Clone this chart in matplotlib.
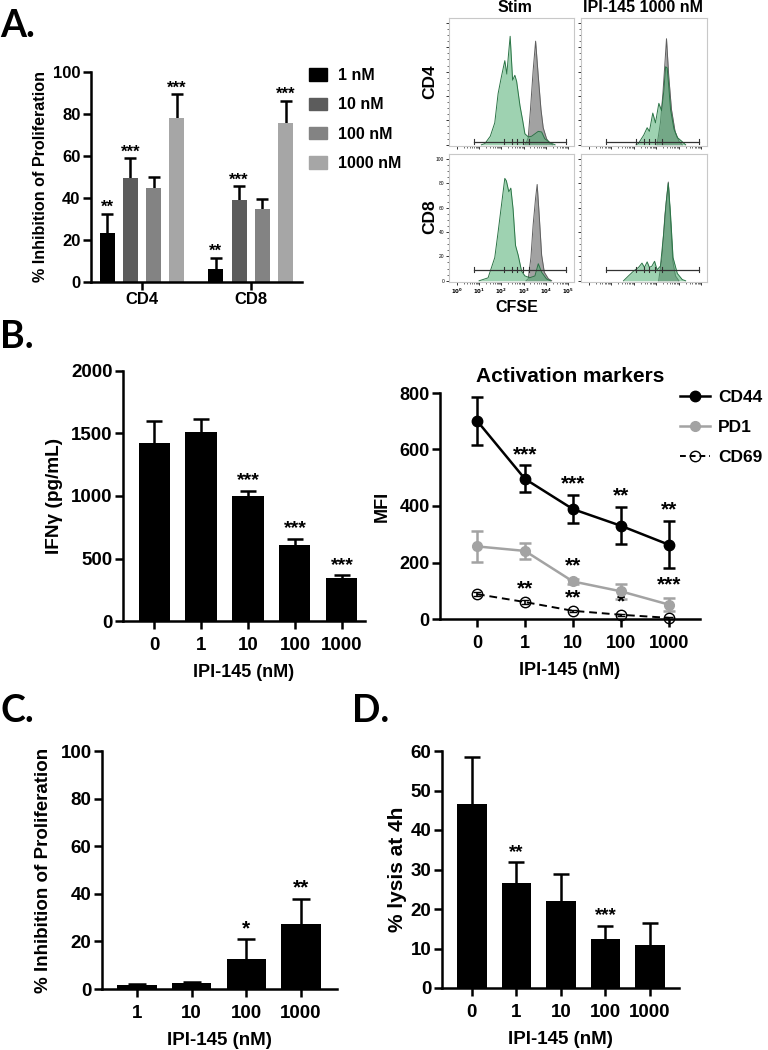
import numpy as np
import matplotlib
matplotlib.use("Agg")
import matplotlib.pyplot as plt
from matplotlib.lines import Line2D
from matplotlib.patches import Patch

plt.rcParams['font.family'] = ['Liberation Sans', 'DejaVu Sans']
plt.rcParams['font.weight'] = 'bold'
plt.rcParams['axes.labelweight'] = 'bold'

# ---------------- data ----------------
# Panel A
a_groups = ['CD4', 'CD8']
a_doses = ['1 nM', '10 nM', '100 nM', '1000 nM']
a_cd4_mean = [23.5, 49.3, 44.7, 78.1]
a_cd4_err = [9.1, 9.7, 5.1, 11.2]
a_cd8_mean = [6.2, 39.1, 34.6, 75.8]
a_cd8_err = [5.3, 6.5, 4.8, 10.5]
a_cd4_stars = ['**', '***', '', '***']
a_cd8_stars = ['**', '***', '', '***']

# Panel A histograms (log10 CFSE, % of max)
stim_cd4_green_x = [1.1, 1.26, 1.5, 1.7, 1.85, 2.0, 2.15, 2.24, 2.32, 2.39, 2.5, 2.6, 2.68, 2.83, 2.95, 3.05, 3.2, 3.35, 3.5, 3.65, 3.8, 3.94, 4.2, 4.4]
stim_cd4_green_y = [0, 1, 7, 18, 42, 56, 69, 58, 75, 89, 53, 57, 52, 32, 20, 9, 6.5, 7, 9, 11, 10.5, 5, 1.5, 0]
stim_cd4_grey_x = [3.05, 3.12, 3.2, 3.3, 3.42, 3.53, 3.65, 3.77, 3.87, 4.02, 4.17, 4.3]
stim_cd4_grey_y = [0, 2, 6, 29, 61, 85, 56, 29, 14, 5, 1, 0]
ipi_cd4_green_x = [2.1, 2.2, 2.44, 2.59, 2.69, 2.84, 2.96, 3.11, 3.23, 3.33, 3.41, 3.48, 3.55, 3.63, 3.78, 3.93, 4.12, 4.3]
ipi_cd4_green_y = [0, 1, 8, 14, 11, 26, 18, 34, 28, 44, 64, 63, 48, 29, 13, 6, 3, 0]
ipi_cd4_grey_x = [3.03, 3.18, 3.29, 3.38, 3.45, 3.55, 3.67, 3.83, 4.0, 4.15]
ipi_cd4_grey_y = [0, 18, 42, 67, 87, 56, 29, 11, 3, 0]
stim_cd8_green_x = [1.0, 1.4, 1.7, 1.85, 2.0, 2.15, 2.22, 2.33, 2.42, 2.52, 2.63, 2.75, 2.9, 3.05, 3.27, 3.5, 3.65, 3.8, 4.02, 4.2]
stim_cd8_green_y = [0, 2.4, 19, 40, 62, 84, 82, 73, 76, 59, 29, 21, 8, 4, 2.5, 4, 14, 7, 1.5, 0]
stim_cd8_grey_x = [3.1, 3.2, 3.32, 3.42, 3.53, 3.6, 3.69, 3.8, 3.92, 4.1, 4.25]
stim_cd8_grey_y = [0, 1.7, 19, 46, 68, 79, 54, 21, 7, 1.7, 0]
ipi_cd8_green_x = [1.54, 1.76, 1.99, 2.21, 2.36, 2.47, 2.59, 2.69, 2.8, 2.92, 3.03, 3.18, 3.33, 3.44, 3.53, 3.63, 3.74, 3.93, 4.15, 4.3]
ipi_cd8_green_y = [0, 4, 8, 11, 14.5, 11, 15.5, 11, 12, 16, 9, 12, 40, 65, 80, 54, 19, 6, 1, 0]
ipi_cd8_grey_x = [3.1, 3.25, 3.38, 3.53, 3.63, 3.73, 3.85, 4.0]
ipi_cd8_grey_y = [0, 19, 54, 81, 49, 16, 4, 0]
gate_divisions = [2.1, 2.47, 2.69, 2.96, 3.23]
gate_range = [0.75, 4.9]

# Panel B
b_doses = ['0', '1', '10', '100', '1000']
b_ifng_mean = [1420, 1512, 1003, 610, 342]
b_ifng_err = [183, 105, 38, 48, 24]
b_ifng_stars = ['', '', '***', '***', '***']
b_cd44_mean = [702, 496, 389, 330, 263]
b_cd44_err = [85, 48, 50, 66, 84]
b_cd44_stars = ['', '***', '***', '**', '**']
b_pd1_mean = [257, 241, 133, 98, 51]
b_pd1_err = [55, 29, 8, 27, 23]
b_pd1_stars = ['', '', '**', '', '***']
b_cd69_mean = [88, 60, 29, 15, 4]
b_cd69_err = [8, 6, 4, 4, 3]
b_cd69_stars = ['', '**', '**', '*', '']

# Panel C
c_doses = ['1', '10', '100', '1000']
c_mean = [1.5, 2.5, 12.5, 27.3]
c_err = [0.6, 0.6, 8.3, 10.4]
c_stars = ['', '', '*', '**']

# Panel D
d_doses = ['0', '1', '10', '100', '1000']
d_mean = [46.5, 26.5, 22.0, 12.5, 11.0]
d_err = [11.9, 5.3, 6.9, 3.3, 5.4]
d_stars = ['', '**', '', '***', '']

# ---------------- figure ----------------
W, H = 768, 1050
fig = plt.figure(figsize=(W / 100, H / 100), dpi=100)


def px_axes(l, t, r, b):
    return fig.add_axes([l / W, 1 - b / H, (r - l) / W, (b - t) / H])


LW = 1.8


def prism(ax, fs=12):
    for s in ['top', 'right']:
        ax.spines[s].set_visible(False)
    for s in ['left', 'bottom']:
        ax.spines[s].set_linewidth(LW)
    ax.tick_params(direction='out', length=5.5, width=LW, labelsize=fs, pad=2)
    for lab in ax.get_xticklabels() + ax.get_yticklabels():
        lab.set_fontweight('bold')


def stars(ax, xs, tops, labels, fs=13, pad=0):
    for x, t, s in zip(xs, tops, labels):
        if s:
            ax.annotate(s, (x, t), xytext=(0, pad), textcoords='offset points',
                        ha='center', va='bottom', fontsize=fs, fontweight='bold')


def letter(x, y, s):
    fig.text(x / W, 1 - y / H, s, fontsize=27, fontweight='bold',
             family=['Lato', 'Open Sans', 'DejaVu Sans'], va='center', ha='left')


letter(0, 26, 'A.')
letter(0, 337, 'B.')
letter(0, 711, 'C.')
letter(352, 711, 'D.')

# ----- Panel A bars -----
axA = px_axes(91, 72, 302, 282)
a_colors = ['#000000', '#5c5c5c', '#838383', '#a6a6a6']
gap = 4.67
for i in range(4):
    xs = [i, i + gap]
    means = [a_cd4_mean[i], a_cd8_mean[i]]
    errs = [a_cd4_err[i], a_cd8_err[i]]
    axA.errorbar(xs, means, yerr=errs, fmt='none', ecolor='k', elinewidth=LW,
                 capsize=4.5, capthick=LW, zorder=1)
    axA.bar(xs, means, width=0.64, color=a_colors[i], zorder=2, label=a_doses[i])
    stars(axA, xs, [m + e for m, e in zip(means, errs)],
          [a_cd4_stars[i], a_cd8_stars[i]], fs=12, pad=-1)
axA.set_xlim(-0.69, 8.37)
axA.set_ylim(0, 100)
axA.set_yticks([0, 20, 40, 60, 80, 100])
axA.set_xticks([1.5, 1.5 + gap])
axA.set_xticklabels(a_groups)
axA.set_ylabel('% Inhibition of Proliferation', fontsize=11.6, labelpad=4)
prism(axA, fs=12)
axA.legend(handles=[Patch(color=c, label=l) for c, l in zip(a_colors, a_doses)],
           loc='upper left', bbox_to_anchor=(309 / W, 1 - 68 / H),
           bbox_transform=fig.transFigure, frameon=False,
           handlelength=1.1, handleheight=0.8, labelspacing=0.9,
           handletextpad=0.7, borderpad=0, borderaxespad=0,
           prop={'weight': 'bold', 'size': 11.5})

# ----- Panel A histograms -----
hist_axes = [
    (449, 18, 574, 146, stim_cd4_grey_x, stim_cd4_grey_y, stim_cd4_green_x, stim_cd4_green_y),
    (581, 18, 707, 146, ipi_cd4_grey_x, ipi_cd4_grey_y, ipi_cd4_green_x, ipi_cd4_green_y),
    (449, 154, 574, 282, stim_cd8_grey_x, stim_cd8_grey_y, stim_cd8_green_x, stim_cd8_green_y),
    (581, 154, 707, 282, ipi_cd8_grey_x, ipi_cd8_grey_y, ipi_cd8_green_x, ipi_cd8_green_y),
]
for k, (l, t, r, b, gx, gy, hx, hy) in enumerate(hist_axes):
    ax = px_axes(l, t, r, b)
    ax.fill_between(gx, gy, color='#9d9d9d', alpha=0.95, lw=0, zorder=1)
    ax.plot(gx, gy, color='#5e5e5e', lw=0.7, zorder=2)
    ax.fill_between(hx, hy, color='#4fae72', alpha=0.55, lw=0, zorder=3)
    ax.plot(hx, hy, color='#2b7446', lw=0.7, zorder=4)
    gate_y = 2.5 if k < 2 else 9
    ax.plot(gate_range, [gate_y, gate_y], color='#333333', lw=0.9, zorder=5)
    for gxv in gate_range + gate_divisions:
        ax.plot([gxv, gxv], [gate_y - 2, gate_y + 2], color='#333333', lw=0.8, zorder=5)
    ax.set_xlim(-0.35, 5.25)
    ax.set_ylim(-1, 104)
    for s in ax.spines.values():
        s.set_color('#c8c8c8')
        s.set_linewidth(0.8)
    ax.set_xticks(range(6))
    ax.set_xticks([np.log10(m) + d for d in range(5) for m in range(2, 10)], minor=True)
    ax.set_yticks([0, 20, 40, 60, 80, 100])
    ax.set_yticks(np.arange(0, 101, 5), minor=True)
    ax.tick_params(which='major', direction='out', length=2.5, width=0.7, color='#333333', pad=1)
    ax.tick_params(which='minor', direction='out', length=1.3, width=0.5, color='#333333')
    if k == 2:
        ax.set_xticklabels([f'$10^{{{n}}}$' for n in range(6)], fontsize=4, fontweight='normal')
        ax.set_yticklabels(['0', '20', '40', '60', '80', '100'], fontsize=3.5, fontweight='normal')
    else:
        ax.set_xticklabels([])
        ax.set_yticklabels([])

fig.text(515 / W, 1 - 8 / H, 'Stim', fontsize=11.5, fontweight='bold', ha='center', va='center')
fig.text(643 / W, 1 - 8 / H, 'IPI-145 1000 nM', fontsize=11.5, fontweight='bold', ha='center', va='center')
fig.text(430 / W, 1 - 82 / H, 'CD4', fontsize=12.5, fontweight='bold', ha='center', va='center', rotation=90)
fig.text(430 / W, 1 - 217 / H, 'CD8', fontsize=12.5, fontweight='bold', ha='center', va='center', rotation=90)
fig.text(517 / W, 1 - 307 / H, 'CFSE', fontsize=11.5, fontweight='bold', ha='center', va='center')

# ----- Panel B left -----
axB = px_axes(123, 371, 365, 621)
xb = np.arange(len(b_doses))
axB.errorbar(xb, b_ifng_mean, yerr=b_ifng_err, fmt='none', ecolor='k', elinewidth=LW,
             capsize=6, capthick=LW, zorder=1)
axB.bar(xb, b_ifng_mean, width=0.66, color='k', zorder=2)
stars(axB, xb, [m + e for m, e in zip(b_ifng_mean, b_ifng_err)], b_ifng_stars, fs=14, pad=1)
axB.set_xlim(-0.66, 4.49)
axB.set_ylim(0, 2000)
axB.set_yticks([0, 500, 1000, 1500, 2000])
axB.set_xticks(xb)
axB.set_xticklabels(b_doses)
axB.set_ylabel('IFN\u03b3 (pg/mL)', fontsize=13.7, labelpad=6)
axB.set_xlabel('IPI-145 (nM)', fontsize=13, labelpad=7)
prism(axB, fs=13.5)
axB.tick_params(axis='x', pad=6)

# ----- Panel B right -----
axM = px_axes(440, 393, 700, 619)
xm = np.arange(len(b_doses))
axM.errorbar(xm, b_pd1_mean, yerr=b_pd1_err, color='#a3a3a3', lw=LW, elinewidth=LW,
             capsize=4.5, capthick=LW, marker='o', ms=7, mfc='#a3a3a3', mec='#a3a3a3',
             zorder=3, clip_on=False, label='PD1')
axM.errorbar(xm, b_cd69_mean, yerr=b_cd69_err, color='k', lw=1.4, ls=(0, (4, 2.5)),
             elinewidth=1.2, capsize=3, capthick=1.2, marker='o', ms=7.5, mfc='none',
             mec='k', mew=1.0, zorder=4, clip_on=False, label='CD69')
axM.errorbar(xm, b_cd44_mean, yerr=b_cd44_err, color='k', lw=LW, elinewidth=LW,
             capsize=4.5, capthick=LW, marker='o', ms=7.5, mfc='k', mec='k',
             zorder=5, clip_on=False, label='CD44')
stars(axM, xm, [m + e for m, e in zip(b_cd44_mean, b_cd44_err)], b_cd44_stars, fs=15, pad=1)
stars(axM, xm, [m + e + 12 for m, e in zip(b_pd1_mean, b_pd1_err)], b_pd1_stars, fs=15, pad=0)
stars(axM, xm, [m + e + 8 for m, e in zip(b_cd69_mean, b_cd69_err)], b_cd69_stars, fs=15, pad=0)
axM.set_xlim(-0.77, 4.65)
axM.set_ylim(0, 800)
axM.set_yticks([0, 200, 400, 600, 800])
axM.set_xticks(xm)
axM.set_xticklabels(b_doses)
axM.set_ylabel('MFI', fontsize=13, labelpad=6)
axM.set_xlabel('IPI-145 (nM)', fontsize=13, labelpad=7)
axM.set_title('Activation markers', fontsize=15, fontweight='bold', pad=8)
prism(axM, fs=13)
axM.tick_params(axis='x', pad=6)
leg_handles = [
    Line2D([], [], color='k', lw=LW, marker='o', ms=7.5, mfc='k', mec='k', label='CD44'),
    Line2D([], [], color='#a3a3a3', lw=LW, marker='o', ms=7, mfc='#a3a3a3', mec='#a3a3a3', label='PD1'),
    Line2D([], [], color='k', lw=1.4, ls=(0, (3, 2)), marker='o', ms=7.5, mfc='none', mec='k', mew=1.0, label='CD69'),
]
axM.legend(handles=leg_handles, loc='upper left', bbox_to_anchor=(680 / W, 1 - 390 / H),
           bbox_transform=fig.transFigure, frameon=False, handlelength=1.7,
           handletextpad=0.5, labelspacing=0.85, borderpad=0, borderaxespad=0,
           prop={'weight': 'bold', 'size': 12.5})

# ----- Panel C -----
axC = px_axes(102, 751, 337, 989)
xc = np.arange(len(c_doses))
axC.errorbar(xc, c_mean, yerr=c_err, fmt='none', ecolor='k', elinewidth=LW,
             capsize=6.5, capthick=LW, zorder=1)
axC.bar(xc, c_mean, width=0.72, color='k', zorder=2)
stars(axC, xc, [m + e for m, e in zip(c_mean, c_err)], c_stars, fs=15, pad=1)
axC.set_xlim(-0.64, 3.66)
axC.set_ylim(0, 100)
axC.set_yticks([0, 20, 40, 60, 80, 100])
axC.set_xticks(xc)
axC.set_xticklabels(c_doses)
axC.set_ylabel('% Inhibition of Proliferation', fontsize=13.5, labelpad=6)
axC.set_xlabel('IPI-145 (nM)', fontsize=13.5, labelpad=7)
prism(axC, fs=13.5)
axC.tick_params(axis='x', pad=6)

# ----- Panel D -----
axD = px_axes(442, 751, 679, 988)
xd = np.arange(len(d_doses))
axD.errorbar(xd, d_mean, yerr=d_err, fmt='none', ecolor='k', elinewidth=LW,
             capsize=5.5, capthick=LW, zorder=1)
axD.bar(xd, d_mean, width=0.66, color='k', zorder=2)
stars(axD, xd, [m + e for m, e in zip(d_mean, d_err)], d_stars, fs=13.5, pad=1)
axD.set_xlim(-0.67, 4.65)
axD.set_ylim(0, 60)
axD.set_yticks([0, 10, 20, 30, 40, 50, 60])
axD.set_xticks(xd)
axD.set_xticklabels(d_doses)
axD.set_ylabel('% lysis at 4h', fontsize=15, labelpad=3)
axD.set_xlabel('IPI-145 (nM)', fontsize=13.5, labelpad=7)
prism(axD, fs=13.5)
axD.tick_params(axis='x', pad=6)

fig.savefig('out.png', dpi=100)
